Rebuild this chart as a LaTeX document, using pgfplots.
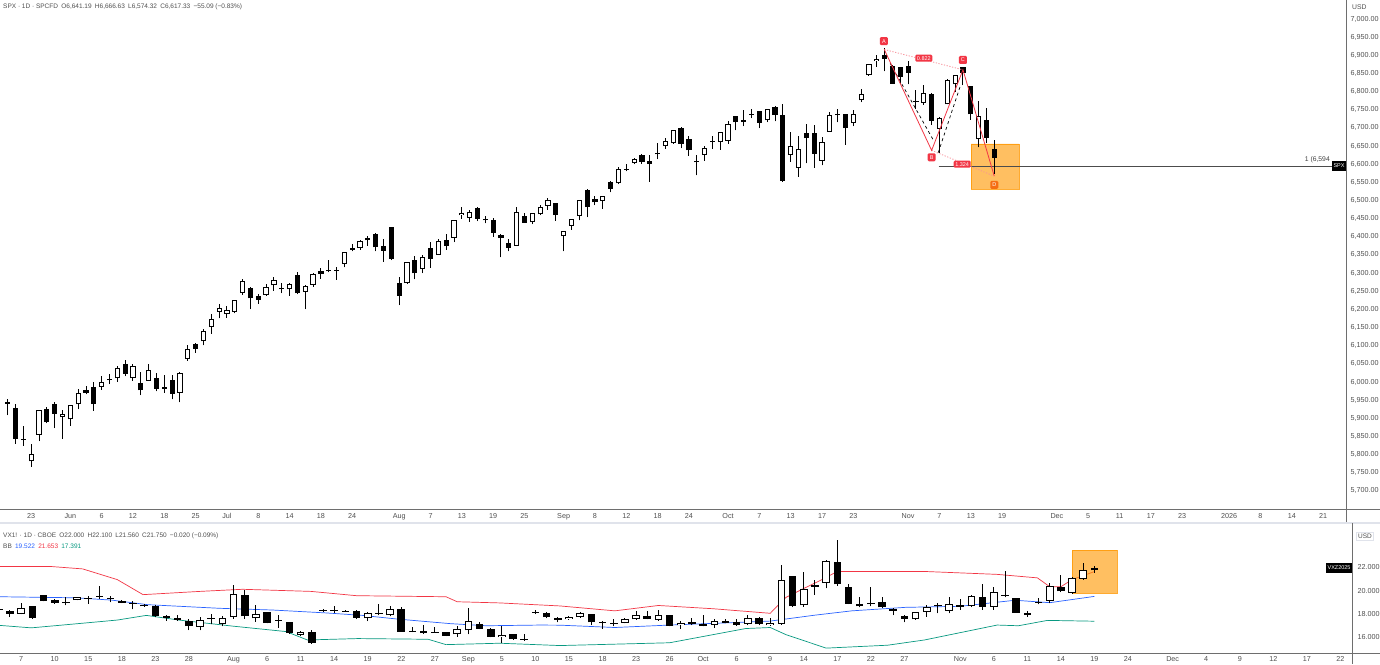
\documentclass[border=0pt]{standalone}
\usepackage{fontspec}
\setmainfont{Liberation Sans}
\usepackage{pgfplots}
\pgfplotsset{compat=1.18}
\usepackage{pgfplotstable}
\usepgfplotslibrary{fillbetween}

\definecolor{tvtext}{RGB}{80,80,80}
\definecolor{tvred}{RGB}{242,54,69}
\definecolor{tvblue}{RGB}{41,98,255}
\definecolor{tvgreen}{RGB}{8,153,129}
\definecolor{tvorange}{RGB}{255,152,0}
\definecolor{bbfill}{RGB}{238,245,254}
\definecolor{sepcol}{RGB}{110,110,110}
\definecolor{panesep}{RGB}{224,227,235}

% SPX daily candles, x = trading-day index (0 = 2 Jun 2025)
\pgfplotstableread{
i o h l c
-8 5944 5953 5909 5940
-7 5928 5939 5830 5844
-3 5925 5930 5887 5889
-2 5939 5944 5873 5912
2 5978 5990 5966 5971
3 5985 5999 5921 5939
7 6050 6060 6016 6022
9 5997 6027 5964 5977
11 6012 6024 5974 5982
12 5987 6018 5971 5981
13 6005 6018 5952 5967
16 6104 6108 6080 6092
23 6259 6263 6201 6230
24 6238 6243 6215 6226
29 6295 6302 6242 6244
32 6307 6315 6285 6297
36 6368 6381 6360 6363
38 6397 6401 6375 6390
39 6409 6410 6360 6371
40 6375 6394 6331 6362
41 6428 6428 6336 6339
42 6272 6288 6212 6238
44 6337 6347 6283 6299
46 6370 6385 6315 6340
48 6390 6409 6364 6374
52 6478 6481 6443 6450
54 6447 6452 6400 6411
55 6406 6407 6343 6396
56 6384 6393 6360 6370
58 6457 6466 6438 6439
62 6494 6494 6444 6460
66 6529 6533 6454 6482
67 6505 6513 6487 6495
69 6551 6555 6522 6532
71 6588 6601 6580 6584
73 6624 6627 6601 6607
74 6608 6624 6551 6600
78 6701 6702 6644 6656
79 6670 6677 6623 6638
80 6609 6625 6569 6605
85 6732 6734 6693 6715
86 6722 6750 6705 6716
88 6746 6747 6699 6714
90 6757 6759 6718 6735
91 6735 6765 6551 6553
94 6685 6711 6602 6671
95 6687 6707 6590 6629
98 6736 6753 6715 6735
99 6737 6739 6653 6699
104 6902 6920 6856 6891
105 6870 6873 6822 6822
106 6868 6869 6822 6840
107 6871 6884 6820 6852
108 6772 6803 6751 6771
110 6793 6796 6708 6720
114 6867 6869 6818 6851
115 6814 6814 6722 6737
117 6722 6754 6658 6672
118 6641 6667 6574 6617
}\spxDown

\pgfplotstableread{
i o h l c
-6 5841 5878 5825 5842
-5 5781 5829 5767 5802
-4 5855 5922 5837 5922
-1 5903 5922 5843 5912
0 5897 5937 5879 5936
1 5938 5981 5925 5970
4 5987 6016 5978 6000
5 6005 6021 5994 6006
6 6010 6043 6000 6039
8 6010 6050 6004 6045
10 6004 6050 6004 6033
14 5970 6028 5944 6025
15 6063 6101 6059 6092
17 6112 6146 6101 6141
18 6151 6187 6133 6173
19 6193 6215 6175 6205
20 6187 6210 6177 6198
21 6193 6227 6189 6227
22 6245 6284 6241 6279
25 6240 6269 6237 6263
26 6266 6290 6251 6280
27 6256 6273 6245 6260
28 6255 6272 6237 6269
30 6249 6268 6201 6264
31 6268 6300 6262 6297
33 6305 6336 6302 6306
34 6307 6317 6281 6309
35 6326 6359 6316 6358
37 6370 6390 6364 6389
43 6272 6330 6271 6330
45 6311 6349 6300 6345
47 6351 6395 6350 6389
49 6398 6446 6385 6445
50 6460 6481 6449 6466
51 6453 6473 6441 6469
53 6445 6456 6437 6449
57 6375 6481 6375 6467
59 6440 6466 6435 6466
60 6462 6487 6460 6481
61 6486 6508 6474 6502
63 6401 6416 6360 6416
64 6431 6449 6419 6448
65 6457 6502 6445 6502
68 6498 6513 6477 6512
70 6547 6592 6545 6588
72 6603 6616 6600 6615
75 6627 6657 6614 6632
76 6650 6671 6643 6664
77 6657 6695 6656 6694
81 6626 6650 6610 6644
82 6661 6677 6643 6662
83 6661 6689 6640 6688
84 6664 6718 6656 6711
87 6736 6753 6727 6738
89 6721 6753 6716 6753
92 6625 6690 6607 6651
93 6589 6678 6566 6641
96 6609 6676 6597 6661
97 6690 6744 6690 6735
100 6713 6749 6705 6738
101 6776 6807 6771 6792
102 6845 6876 6844 6875
103 6884 6900 6868 6891
109 6769 6818 6764 6796
111 6698 6729 6631 6728
112 6765 6836 6765 6832
113 6820 6847 6800 6846
116 6668 6775 6646 6734
}\spxUp

% VX1! daily candles
\pgfplotstableread{
i o h l c
21 18.45 18.55 18.30 18.40
22 18.29 18.35 17.75 18.04
24 18.66 18.70 17.58 17.67
25 19.64 19.68 19.10 19.12
26 19.21 19.30 18.90 18.96
27 19.06 19.50 18.75 18.94
31 19.37 19.58 19.00 19.35
32 19.15 19.20 18.95 18.99
33 18.90 19.12 18.41 18.87
34 18.81 18.88 18.62 18.66
35 18.72 18.78 17.75 17.80
36 17.80 17.90 17.45 17.65
37 17.67 17.90 17.45 17.52
38 17.43 17.58 16.63 16.97
43 19.67 20.03 17.60 17.80
45 18.14 18.20 17.20 17.22
47 17.28 17.35 16.30 16.36
49 16.45 16.66 15.45 15.55
51 18.30 18.66 18.10 18.29
52 18.30 18.35 18.20 18.20
53 18.29 18.36 17.60 17.67
57 18.41 18.60 16.50 16.50
59 16.57 17.03 16.30 16.36
60 16.45 16.90 16.40 16.40
61 16.45 16.50 16.10 16.14
64 17.13 17.30 16.70 16.76
65 16.73 16.85 16.00 16.05
67 16.27 16.30 15.80 15.84
68 15.80 16.27 15.72 15.78
70 18.10 18.20 17.65 17.73
71 17.70 17.75 17.30 17.50
74 17.97 18.05 17.06 17.30
76 17.17 17.55 16.94 17.13
79 17.85 18.28 17.55 17.61
81 17.91 17.95 16.95 17.00
83 17.30 17.67 17.06 17.12
84 17.18 17.91 16.94 16.97
86 17.37 17.61 17.20 17.24
87 17.30 17.55 17.00 17.09
89 17.67 17.75 17.05 17.12
92 21.26 21.30 18.60 18.67
96 22.48 24.37 20.45 20.56
97 20.35 20.59 18.85 18.89
98 18.89 19.50 18.58 18.67
100 19.07 19.50 18.55 18.58
101 18.46 18.50 17.91 18.28
102 17.85 17.90 17.30 17.61
107 18.77 19.28 18.37 18.61
109 19.43 20.56 18.37 18.61
112 19.37 19.40 18.10 18.13
113 18.07 18.28 17.76 17.91
116 20.29 21.32 19.89 19.95
119 22.00 22.10 21.56 21.75
}\vxDown

\pgfplotstableread{
i o h l c
23 18.04 18.96 18.00 18.51
28 19.21 19.50 19.20 19.46
29 19.32 19.58 18.90 19.34
30 19.50 20.44 19.27 19.53
39 16.91 17.75 16.60 17.50
40 17.62 18.04 17.12 17.65
41 17.12 17.85 16.95 17.67
42 17.74 20.50 17.60 19.73
44 17.64 18.80 17.35 18.04
46 17.41 17.89 16.82 17.43
48 16.20 16.58 16.10 16.45
50 18.27 18.40 18.20 18.29
54 17.64 18.20 17.40 18.10
55 18.02 18.88 17.89 18.05
56 17.89 18.66 17.80 18.41
58 16.50 16.90 16.45 16.52
62 16.27 16.95 16.05 16.70
63 16.60 18.50 16.27 17.37
66 16.02 17.00 15.54 16.20
69 18.14 18.35 18.00 18.18
72 17.55 17.80 17.50 17.73
73 17.73 18.15 17.70 18.07
75 17.22 17.37 16.76 17.26
77 17.24 17.70 17.20 17.61
78 17.55 18.28 17.50 17.91
80 17.52 18.34 17.45 17.91
82 17.06 17.37 16.76 17.24
85 17.06 17.55 16.85 17.37
88 17.15 17.91 17.06 17.70
90 17.06 17.67 17.00 17.24
91 17.15 22.18 17.10 20.90
93 18.74 21.63 18.65 20.14
94 20.35 20.96 19.68 20.50
95 20.65 22.63 20.20 22.54
99 18.86 20.29 18.67 18.98
103 17.55 18.20 17.50 18.16
104 18.16 18.77 17.76 18.58
105 18.74 18.98 18.07 18.79
106 18.28 19.43 18.07 18.83
108 18.67 19.60 18.60 19.53
110 18.61 20.29 18.37 19.89
111 19.60 21.72 19.43 19.68
114 19.00 19.34 18.83 19.03
115 19.13 20.71 18.98 20.41
117 19.80 21.15 19.75 21.11
118 21.05 22.39 20.96 21.81
}\vxUp

% Bollinger bands (20,2) of VX1!
\pgfplotstableread{
i v
21.1 22.09
25.6 22.09
28.5 21.88
31.6 20.96
33.9 19.67
39 19.95
42.8 20.13
48.9 19.95
53 19.58
61 19.49
62 19.06
65.8 18.96
71.2 18.7
76.1 18.28
80 18.74
84.9 18.46
90 18.07
91.4 19.43
93 20.2
94.5 20.9
96 21.66
103.8 21.66
110.3 21.41
113.9 21.11
115 20.35
116 20.35
117 20.96
119 21.65
}\bbUpper

\pgfplotstableread{
i v
21.1 17.03
23.9 16.82
27.5 17.13
31.6 17.49
34.2 17.89
37.1 17.49
41.9 16.97
46.7 16.5
48.6 15.78
53.1 15.9
59.4 15.84
61 15.38
65.8 15.5
71.2 15.3
81 15.54
87.8 16.76
90 16.85
91.4 16.24
95 15.08
100.5 15.33
103.8 15.78
110.3 17.06
112.2 17.0
114.8 17.46
119 17.39
}\bbLower

\pgfplotstableread{
i v
21.1 19.49
27.9 19.4
31.1 19.2
34.3 18.81
40.7 18.5
45.5 18.35
50.3 18.1
53.5 17.89
56.6 17.58
61.4 17.18
64.6 17.0
69.4 17.06
71.2 17.05
76.1 16.85
81 17.06
85.9 17.24
90 17.4
94 17.91
97.3 18.28
102.1 18.58
107 18.67
111.9 19.19
115 18.98
119 19.52
}\bbBasis

\pgfplotsset{
  cbar/.style 2 args={only marks, mark=*, mark size=0pt,
    mark options={draw=none, fill=none}, forget plot,
    error bars/.cd, y dir=plus, y explicit, error mark=none,
    error bar style={line width=#1, draw=#2, solid}},
}

\begin{document}
\begin{tikzpicture}[x=1pt,y=1pt]
\fill[white] (0,0) rectangle (1380,664);

% ---------------- upper pane: SPX ----------------
\begin{axis}[
  at={(0pt,155pt)}, anchor=south west, scale only axis,
  width=1346pt, height=509pt,
  xmin=-8.985, xmax=162.92, ymin=5650.1, ymax=7052.3,
  axis line style={draw=none}, major tick length=0pt,
  ytick={5700,5750,...,7000}, ytick pos=right, yticklabel pos=right,
  xtick pos=bottom,
  xtick={-5,0,4,8,12,16,20,24,28,32,36,42,46,50,54,58,63,67,71,75,79,84,88,92,96,100,107,111,115,119,126,130,134,138,142,148,152,156,160},
  xticklabels={23,Jun,6,12,18,25,Jul,8,14,18,24,Aug,7,13,19,25,Sep,8,12,18,24,Oct,7,13,17,23,Nov,7,13,19,Dec,5,11,17,23,2026,8,14,21},
  tick label style={font=\fontsize{7.2}{8}\selectfont, text=tvtext},
  yticklabel style={xshift=1pt},
  xticklabel style={yshift=-1pt},
  /pgf/number format/assume math mode=true,
  y tick label style={/pgf/number format/.cd, fixed, fixed zerofill, precision=2, 1000 sep={,}},
  scaled y ticks=false,
]
% target zone
\addplot[draw=tvorange, draw opacity=0.8, fill=tvorange, fill opacity=0.62, forget plot]
  coordinates {(115.03,6531.7) (121.16,6531.7) (121.16,6655.6) (115.03,6655.6) (115.03,6531.7)};
% horizontal level
\addplot[black!70, line width=1pt, forget plot] coordinates {(110.9,6594) (170,6594)};
% wicks
\addplot[cbar={1pt}{black}] table[x=i, y=l, y error plus expr=\thisrow{h}-\thisrow{l}] {\spxDown};
\addplot[cbar={1pt}{black}] table[x=i, y=l, y error plus expr=\thisrow{h}-\thisrow{l}] {\spxUp};
% bodies
\addplot[cbar={5.2pt}{black}] table[x=i, y=c, y error plus expr={max(\thisrow{o}-\thisrow{c},2.2)}] {\spxDown};
\addplot[cbar={5.2pt}{black}] table[x=i, y=o, y error plus expr={max(\thisrow{c}-\thisrow{o},2.2)}] {\spxUp};
\addplot[cbar={3.2pt}{white}] table[x=i, y expr=\thisrow{o}+2.755, y error plus expr={max(\thisrow{c}-\thisrow{o}-5.51,0)}] {\spxUp};
% harmonic pattern
\addplot[black, dashed, line width=0.7pt, forget plot] coordinates {(104.7,6878) (110.2,6667)};
\addplot[black, dashed, line width=0.7pt, forget plot] coordinates {(110.85,6632) (113.7,6818)};
\addplot[tvred!55, dash pattern=on 1.2pt off 1.6pt, line width=0.8pt, forget plot] coordinates {(103.95,6916) (114.0,6860)};
\addplot[tvred!55, dash pattern=on 1.2pt off 1.6pt, line width=0.8pt, forget plot] coordinates {(110.0,6638) (118.0,6567)};
\addplot[tvred, line width=0.8pt, forget plot] coordinates {(103.95,6916) (110.0,6638) (114.0,6860) (118.0,6567)};
\begin{scope}[every node/.style={text=white, rounded corners=1.2pt, inner sep=1.6pt, font=\fontsize{5.5}{6}\selectfont}]
\node[fill=tvred, minimum width=8pt, minimum height=8pt] at (axis cs:103.9,6939) {A};
\node[fill=tvred, minimum width=8pt, minimum height=8pt] at (axis cs:110.0,6619) {B};
\node[fill=tvred, minimum width=8pt, minimum height=8pt] at (axis cs:114.0,6887) {C};
\node[fill={rgb,255:red,245;green,110;blue,20}, minimum width=8pt, minimum height=8pt] at (axis cs:118.0,6543) {D};
\node[fill=tvred] at (axis cs:109.0,6892) {0.822};
\node[fill=tvred] at (axis cs:113.9,6600) {1.324};
\end{scope}
\end{axis}

% ---------------- lower pane: VX1! ----------------
\begin{axis}[
  at={(0pt,11pt)}, anchor=south west, scale only axis,
  width=1352pt, height=130pt,
  xmin=21.106, xmax=142.04, ymin=14.661, ymax=25.82,
  axis line style={draw=none}, major tick length=0pt,
  ytick={16,18,20,22}, ytick pos=right, yticklabel pos=right,
  xtick pos=bottom,
  xtick={23,26,29,32,35,38,42,45,48,51,54,57,60,63,66,69,72,75,78,81,84,87,90,93,96,99,102,107,110,113,116,119,122,126,129,132,135,138,141},
  xticklabels={7,10,15,18,23,28,Aug,6,11,14,19,22,27,Sep,5,10,15,18,23,26,Oct,6,9,14,17,22,27,Nov,6,11,14,19,24,Dec,4,9,12,17,22},
  tick label style={font=\fontsize{7.2}{8}\selectfont, text=tvtext},
  yticklabel style={xshift=2pt},
  /pgf/number format/assume math mode=true,
  y tick label style={/pgf/number format/.cd, fixed, fixed zerofill, precision=3},
]
% band background
\addplot[draw=none, name path=bbU, forget plot] table[x=i, y=v] {\bbUpper};
\addplot[draw=none, name path=bbL, forget plot] table[x=i, y=v] {\bbLower};
\addplot[fill=bbfill, draw=none, forget plot] fill between[of=bbU and bbL];
% band lines
\addplot[tvred, line width=0.7pt, forget plot] table[x=i, y=v] {\bbUpper};
\addplot[tvgreen, line width=0.7pt, forget plot] table[x=i, y=v] {\bbLower};
\addplot[tvblue, line width=0.7pt, forget plot] table[x=i, y=v] {\bbBasis};
% zone
\addplot[draw=tvorange, draw opacity=0.8, fill=tvorange, fill opacity=0.62, forget plot]
  coordinates {(117.0,19.8) (121.0,19.8) (121.0,23.5) (117.0,23.5) (117.0,19.8)};
% candles
\addplot[cbar={1pt}{black}] table[x=i, y=l, y error plus expr=\thisrow{h}-\thisrow{l}] {\vxDown};
\addplot[cbar={1pt}{black}] table[x=i, y=l, y error plus expr=\thisrow{h}-\thisrow{l}] {\vxUp};
\addplot[cbar={7.6pt}{black}] table[x=i, y=c, y error plus expr={max(\thisrow{o}-\thisrow{c},0.07)}] {\vxDown};
\addplot[cbar={7.6pt}{black}] table[x=i, y=o, y error plus expr={max(\thisrow{c}-\thisrow{o},0.07)}] {\vxUp};
\addplot[cbar={5.6pt}{white}] table[x=i, y expr=\thisrow{o}+0.0858, y error plus expr={max(\thisrow{c}-\thisrow{o}-0.1716,0)}] {\vxUp};
\end{axis}

% ---------------- frame lines ----------------
\draw[sepcol, line width=0.8pt] (0,155) -- (1380,155);
\draw[sepcol, line width=0.8pt] (1346,664) -- (1346,141);
\draw[panesep, line width=1.5pt] (0,141) -- (1380,141);
\draw[sepcol, line width=0.8pt] (0,11) -- (1380,11);
\draw[sepcol, line width=0.8pt] (1352,141) -- (1352,0);

% ---------------- texts ----------------
\node[anchor=west, inner sep=0pt, text=tvtext, font=\fontsize{6.5}{7.5}\selectfont] at (3,657)
  {SPX · 1D · SPCFD\enspace O6,641.19\enspace H6,666.63\enspace L6,574.32\enspace C6,617.33\enspace −55.09 (−0.83\%)};
\node[anchor=west, inner sep=0pt, text=tvtext, font=\fontsize{6.8}{8}\selectfont] at (1352,657) {USD};
\node[anchor=west, inner sep=0pt, text=tvtext, font=\fontsize{6.5}{7.5}\selectfont] at (3,128)
  {VX1! · 1D · CBOE\enspace O22.000\enspace H22.100\enspace L21.560\enspace C21.750\enspace −0.020 (−0.09\%)};
\node[anchor=west, inner sep=0pt, font=\fontsize{6.5}{7.5}\selectfont] at (3,118)
  {\textcolor{tvtext}{BB}\enspace\textcolor{tvblue}{19.522}\enspace\textcolor{tvred}{21.653}\enspace\textcolor{tvgreen}{17.391}};
\node[draw=panesep, text=tvtext, inner sep=1.5pt, font=\fontsize{6.5}{7}\selectfont] at (1365,128) {USD};
% price tags
\node[anchor=east, inner sep=0pt, text=black!75, font=\fontsize{6.8}{7}\selectfont] at (1330,504) {1 (6,594};
\node[fill=black, text=white, anchor=east, inner sep=1.3pt, minimum height=10pt, font=\fontsize{5.5}{6}\selectfont] at (1346,498) {SPX};
\node[fill=black, text=white, anchor=east, inner sep=1.3pt, minimum height=10pt, font=\fontsize{5.5}{6}\selectfont] at (1352,96) {VXZ2025};
\pgfresetboundingbox
\useasboundingbox (0,0) rectangle (1380,664);
\end{tikzpicture}
\end{document}
